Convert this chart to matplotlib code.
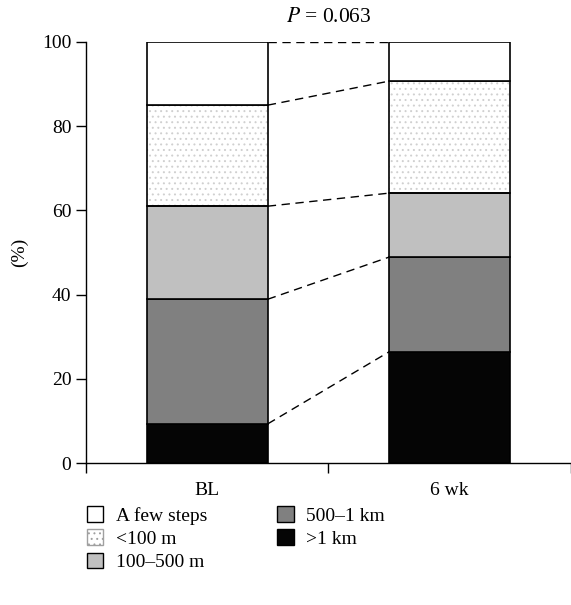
import matplotlib
matplotlib.use('Agg')
import matplotlib.pyplot as plt
import numpy as np
from matplotlib.patches import Patch

plt.rcParams['font.family'] = ['Liberation Serif', 'DejaVu Serif']
plt.rcParams['mathtext.fontset'] = 'stix'
plt.rcParams['hatch.linewidth'] = 0.7

# 数据
categories = ['BL', '6 wk']
labels = ['A few steps', '<100 m', '100\u2013500 m', '500\u20131 km', '>1 km']
# 各段百分比 (从下往上: >1 km, 500-1 km, 100-500 m, <100 m, A few steps)
gt_1km = [9.3, 26.4]
m500_1km = [29.6, 22.5]
m100_500 = [22.1, 15.2]
lt_100m = [24.0, 26.6]
few_steps = [15.0, 9.3]
p_text = '$P$ = 0.063'

segments = [gt_1km, m500_1km, m100_500, lt_100m, few_steps]
colors = ['#050505', '#808080', '#c0c0c0', 'white', 'white']

fig = plt.figure(figsize=(5.71, 6.05), dpi=100)
ax = fig.add_axes([0.1506, 0.2347, 0.849, 0.6959])

x = np.arange(len(categories))
width = 0.5
bottom = np.zeros(len(categories))
tops = []
for i, seg in enumerate(segments):
    seg = np.array(seg)
    if i == 3:
        # 点状填充
        ax.bar(x, seg, width, bottom=bottom, color='white', edgecolor='#d0d0d0',
               hatch='...', linewidth=0, zorder=2)
        ax.bar(x, seg, width, bottom=bottom, fill=False, edgecolor='black',
               linewidth=1.2, zorder=3)
    else:
        ax.bar(x, seg, width, bottom=bottom, color=colors[i], edgecolor='black',
               linewidth=1.2, zorder=3)
    bottom = bottom + seg
    tops.append(bottom.copy())

# 连接虚线
for t in tops:
    ax.plot([x[0] + width / 2, x[1] - width / 2], [t[0], t[1]], color='black',
            linestyle=(0, (6, 4)), linewidth=1.0, zorder=4)

ax.text(0.5, 105.7, p_text, ha='center', va='center', fontsize=15.5, clip_on=False)

ax.set_xlim(-0.5, 1.5)
ax.set_ylim(0, 100)
ax.set_yticks([0, 20, 40, 60, 80, 100])
ax.set_xticks(x)
ax.set_xticklabels(categories)
ax.set_xticks([-0.5, 0.5, 1.5], minor=True)
ax.tick_params(axis='x', which='major', length=0, pad=14, labelsize=14)
ax.tick_params(axis='x', which='minor', length=7.5, width=1.0, direction='out')
ax.tick_params(axis='y', length=7.5, width=1.0, direction='out', labelsize=14, pad=3)
for s in ['top', 'right']:
    ax.spines[s].set_visible(False)
for s in ['left', 'bottom']:
    ax.spines[s].set_linewidth(1.0)
ax.set_ylabel('(%)', fontsize=14)
ax.yaxis.set_label_coords(-0.119, 0.5)

handles = [
    Patch(facecolor='white', edgecolor='black', linewidth=1.0),
    Patch(facecolor='white', edgecolor='#a0a0a0', hatch='...', linewidth=1.0),
    Patch(facecolor='#c0c0c0', edgecolor='black', linewidth=1.0),
    Patch(facecolor='#808080', edgecolor='black', linewidth=1.0),
    Patch(facecolor='#050505', edgecolor='black', linewidth=1.0),
]
fig.legend(handles, labels, loc='upper left', bbox_to_anchor=(0.128, 0.186),
           ncol=2, frameon=False, fontsize=14, handlelength=0.85, handleheight=0.85,
           handletextpad=0.65, labelspacing=0.25, columnspacing=3.6, borderpad=0.2)

plt.savefig('out.png', dpi=100)
plt.close()
